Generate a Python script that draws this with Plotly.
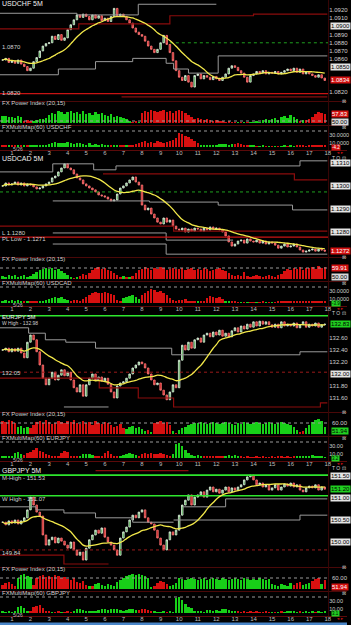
import plotly.graph_objects as go
import pandas as pd

W, H = 351, 625
OFFS = [0, 156, 311, 466]
XEND = 332 / W
XR = [0.36, 18.02]
FONT = "Liberation Sans"

# ---------------- data ----------------
bar_t = [0.5 + i / 6 for i in range(105)]          # bar times (hours)
hour_ticks = list(range(1, 19))
symbols = ["USDCHF", "USDCAD", "EURJPY", "GBPJPY"]

usdchf_close = [1.0859, 1.0861, 1.0856,
    1.0858, 1.0855, 1.0859, 1.0854, 1.0851, 1.0846,
    1.0849, 1.0857, 1.0862, 1.0870, 1.0876, 1.0879,
    1.0880, 1.0888, 1.0884, 1.0890, 1.0883, 1.0886,
    1.0896, 1.0902, 1.0908, 1.0914, 1.0911, 1.0915,
    1.0912, 1.0908, 1.0914, 1.0910, 1.0913, 1.0907,
    1.0910, 1.0906, 1.0912, 1.0922, 1.0913, 1.0915,
    1.0912, 1.0908, 1.0904, 1.0898, 1.0893, 1.0890,
    1.0888, 1.0882, 1.0876, 1.0872, 1.0868, 1.0872,
    1.0880, 1.0889, 1.0878, 1.0868, 1.0858, 1.0846,
    1.0838, 1.0834, 1.0840, 1.0832, 1.0826, 1.0840,
    1.0842, 1.0836, 1.0840, 1.0838, 1.0835, 1.0839,
    1.0836, 1.0834, 1.0838, 1.0842, 1.0849, 1.0852,
    1.0850, 1.0846, 1.0843, 1.0838, 1.0832, 1.0840,
    1.0842, 1.0845, 1.0843, 1.0846, 1.0842, 1.0844,
    1.0843, 1.0845, 1.0842, 1.0844, 1.0846, 1.0848,
    1.0846, 1.0849, 1.0844, 1.0848, 1.0842, 1.0845,
    1.0842, 1.0840, 1.0838, 1.0841, 1.0837, 1.0834]

usdcad_close = [1.13000, 1.13013, 1.13004,
    1.13009, 1.13017, 1.13004, 1.13013, 1.13000, 1.13009,
    1.13004, 1.12996, 1.12987, 1.12991, 1.13000, 1.13009,
    1.13017, 1.13035, 1.13043, 1.13061, 1.13078, 1.13096,
    1.13078, 1.13070, 1.13052, 1.13035, 1.13026, 1.13009,
    1.13000, 1.12991, 1.12983, 1.12974, 1.12961, 1.12957,
    1.12952, 1.12943, 1.12935, 1.12939, 1.12965, 1.12991,
    1.13000, 1.13013, 1.13026, 1.13039, 1.13017, 1.13004,
    1.12917, 1.12896, 1.12904, 1.12878, 1.12861, 1.12843,
    1.12835, 1.12861, 1.12843, 1.12852, 1.12826, 1.12813,
    1.12809, 1.12817, 1.12800, 1.12813, 1.12804, 1.12817,
    1.12813, 1.12804, 1.12817, 1.12809, 1.12822, 1.12813,
    1.12817, 1.12809, 1.12800, 1.12783, 1.12757, 1.12739,
    1.12748, 1.12761, 1.12765, 1.12752, 1.12770, 1.12761,
    1.12757, 1.12765, 1.12752, 1.12761, 1.12748, 1.12757,
    1.12752, 1.12743, 1.12730, 1.12739, 1.12748, 1.12735,
    1.12739, 1.12748, 1.12735, 1.12722, 1.12713, 1.12717,
    1.12722, 1.12726, 1.12717, 1.12726, 1.12722, 1.12717]

eurjpy_close = [132.40, 132.43, 132.37,
    132.42, 132.38, 132.43, 132.35, 132.27, 132.53,
    132.65, 132.57, 132.37, 132.15, 131.93, 131.82,
    131.93, 132.03, 131.90, 131.98, 132.07, 131.97,
    132.03, 131.90, 131.77, 131.70, 131.82, 131.63,
    131.82, 131.93, 132.00, 131.90, 131.95, 131.88,
    131.93, 131.83, 131.70, 131.60, 131.80, 131.85,
    131.87, 131.93, 132.00, 132.10, 132.15, 132.20,
    132.17, 132.10, 132.00, 131.90, 131.82, 131.85,
    131.73, 131.65, 131.57, 131.70, 131.82, 131.77,
    132.23, 132.48, 132.40, 132.53, 132.43, 132.57,
    132.60, 132.53, 132.65, 132.68, 132.62, 132.70,
    132.65, 132.73, 132.63, 132.68, 132.62, 132.72,
    132.77, 132.70, 132.80, 132.75, 132.83, 132.78,
    132.87, 132.80, 132.88, 132.83, 132.87, 132.82,
    132.78, 132.83, 132.77, 132.87, 132.80, 132.83,
    132.80, 132.85, 132.77, 132.82, 132.87, 132.78,
    132.83, 132.80, 132.85, 132.78, 132.82, 132.83]

gbpjpy_close = [150.45, 150.39, 150.48,
    150.43, 150.50, 150.41, 150.48, 150.55, 150.73,
    151.02, 150.84, 150.68, 150.59, 150.16, 149.93,
    150.05, 150.11, 149.98, 150.09, 150.02, 149.93,
    149.86, 150.00, 149.82, 149.70, 149.77, 149.59,
    149.86, 150.05, 150.16, 150.27, 150.20, 150.32,
    150.11, 150.00, 149.93, 149.82, 149.70, 150.09,
    150.23, 150.34, 150.50, 150.61, 150.55, 150.68,
    150.73, 150.55, 150.45, 150.41, 150.27, 150.09,
    149.93, 149.82, 150.05, 150.23, 150.16, 150.27,
    150.61, 150.84, 150.95, 151.07, 150.84, 151.02,
    151.07, 151.14, 151.02, 151.18, 151.25, 151.14,
    151.20, 151.11, 151.18, 151.25, 151.14, 151.23,
    151.18, 151.25, 151.30, 151.41, 151.48, 151.52,
    151.41, 151.30, 151.34, 151.25, 151.30, 151.18,
    151.23, 151.30, 151.18, 151.25, 151.32, 151.27,
    151.34, 151.25, 151.30, 151.18, 151.14, 151.23,
    151.27, 151.23, 151.30, 151.18, 151.25, 151.20]

# FX Power Index (sign = colour: + green, - red)
usdchf_power = [56, 56, 55,
    55, 54, 56, 55, -51, -52,  -51, 51, 52, 53, 53, 54,
    57, 59, 58, 61, 60, 58,  60, 61, 59, 60, 58, 61,
    58, 59, 57, 60, 58, 59,  57, 56, 58, 55, 56, 55,
    54, 53, 51, -50, -51, 50,  -59, -61, -60, -62, -61, -60,
    -61, -62, -60, -61, -59, -61,  -62, -61, -59, -57, -55, -53,
    -54, -53, -52, -53, -52, -51,  -52, -51, -51, -50, -51, -50,
    -50, 50, -50, 50, -50, 50,  50, 51, 50, 52, 53, 52,
    53, 54, 52, 55, 56, 54,  57, 55, 53, -51, 52, -52,
    -53, -55, -58, -60, -59, -58]
usdcad_power = [52, 51, 53,
    52, 53, 51, 52, 53, 51,  52, 54, 56, 58, 59, 60,
    59, 60, 58, 59, 57, 55,  53, 51, -50, 51, -52, -54,
    -53, -55, -58, -60, -61, -59,  -60, -58, -57, -55, -53, -51,
    52, -51, 51, -52, -55, -58,  -59, -61, -60, -58, -60, -59,
    -61, -60, -58, -59, -60, -59,  -59, -60, -58, -59, -60, -58,
    -59, -58, -60, -59, -57, -58,  -59, -60, -58, -57, -55, -53,
    -52, -53, -52, -56, -52, -51,  -52, -53, -52, -51, -52, -53,
    -52, -51, -53, -54, -57, -59,  -58, -60, -59, -61, -58, -60,
    -60, -61, -59, -62, -60, -61]
eurjpy_power = [-62, -61, -63,
    -62, -60, 56, 57, 55, 56,  -55, -58, -61, -62, -60, -63,
    -61, -59, -60, -62, -61, -60,  -62, -61, -63, -60, -59, -62,
    -60, -61, -58, -62, -60, -59,  -61, -60, -58, -56, -57, -59,
    -55, 54, 56, 57, 55, 56,  54, 52, -53, 51, -60, -61,
    -62, -60, -61, -58, 52, -50,  53, 55, 56, 58, 59, 60,
    60, 61, 60, 59, 60, 61,  60, 59, 60, 61, 60, 59,
    58, 60, 59, 61, 60, 59,  60, 61, 60, 59, 60, 61,
    60, 59, 60, 61, 60, 59,  58, 56, 53, -51, -52, 55,
    58, 61, 63, 64, 62, 56]
gbpjpy_power = [-53, -55, -56,
    -54, -52, 60, 63, 64, 62,  61, -53, -60, -62, -63, -61,
    -62, -61, -63, -62, -60, -61,  -59, -58, -60, -56, -55, -57,
    -53, 52, -52, 54, 55, 53,  52, 54, 53, 52, 56, 58,
    60, 62, 63, 64, 63, 64,  63, 62, 60, 51, -52, -55,
    -57, -56, -54, 52, 53, 55,  60, 59, 58, 59, 60, 59,
    58, 59, 60, 58, 59, 60,  59, 58, 60, 59, 58, 59,
    60, 59, 58, 60, 59, 58,  59, 58, 60, 59, 58, 59,
    54, 53, 52, 54, 53, 52,  55, -53, -55, -56, 53, 54,
    55, -57, -59, -60, 54, -58]

# FX MultiMap(60) (sign = colour)
usdchf_mm = [-5, -4, 3,
    -5, -6, 4, -3, 3, -4,  5, 4, 6, 3, 5, 4,
    8, 10, 12, 9, 11, 10,  12, 10, 8, 11, 9, 7,
    6, 9, 5, 7, 6, 8,  5, 4, -3, 4, 3, -4,
    -4, 3, -5, -6, -8, -10,  -12, -15, -10, -13, -11, -14,
    -12, -10, -13, -15, -18, -22,  -35, -32, -28, -24, -20, -15,
    -10, 4, 3, 5, 4, 3,  6, 7, 8, 7, 6, 8,
    -7, -9, -8, -6, -4, 3,  3, -2, 2, 3, -2, 2,
    -2, 2, -2, 2, 3, -2,  3, 2, -3, -4, -3, -2,
    -4, -3, -5, -4, -3, -4]
usdcad_mm = [6, 8, 5,
    7, 5, 8, 6, -4, 5,  -4, -5, -3, 4, 6, 8,
    10, 12, 14, 13, 15, 11,  8, -6, -8, -7, -5, -10,
    -15, -20, -25, -28, -26, -24,  -27, -25, -22, -20, -8, -5,
    12, 15, 18, 20, 16, 10,  -20, -25, -30, -35, -32, -28,
    -30, -25, -20, -12, -8, -6,  -8, -7, -9, -6, -5, -4,
    3, -3, -5, -12, -18, -15,  -13, -16, -10, 4, 5, -3,
    -3, -2, 2, -2, 2, -2,  -2, 2, -2, -3, 2, -2,
    2, -2, -3, -4, -5, -6,  -5, -6, -4, -5, -6, -5,
    -6, -5, -4, -6, -5, -4]
eurjpy_mm = [4, 3, 5,
    4, 12, 15, 10, -8, -12,  -15, -20, -25, -18, -14, -10,
    -8, -5, -6, -4, -12, -17,  -15, -6, -4, -5, 6, 10,
    10, 9, 8, -4, -3, -4,  -12, -17, -10, -5, -4, 4,
    8, 10, 12, 10, 8, -4,  -10, -12, -10, -12, -11, -9,
    -12, -10, -8, -6, 10, 35,  38, 30, 20, 12, 8, 6,
    7, 5, -4, -6, -5, -4,  -5, -4, -6, 5, 7, 6,
    7, 5, -3, -2, -3, -2,  -2, -3, -2, -3, -2, -2,
    -3, -2, -4, -3, -2, -3,  -2, -3, 3, 5, 6, 5,
    6, 7, 5, 4, 3, 2]
gbpjpy_mm = [3, 2, 3,
    2, 3, 15, 17, 12, 4,  -4, -15, -18, -20, -12, -5,
    -3, 2, -2, -3, 2, -2,  -3, -2, 3, 9, 10, 8,
    6, 5, 6, 4, 8, 10,  9, 8, 10, 11, 9, 8,
    6, 8, 10, 9, 7, -8,  -9, -10, -8, -6, 3, 2,
    2, 3, -2, 3, 2, 38,  40, 32, 22, 16, 12, 6,
    4, 3, 2, 7, 8, 6,  7, 5, 9, 10, 8, 6,
    5, -3, -2, -3, -2, -3,  -2, -3, -2, -2, -3, -2,
    2, -2, 2, -3, 2, 3,  3, 4, 2, -3, 2, 3,
    2, 3, -2, 3, 2, 3]

# axis ranges / ticks (price units)
price_range = [[1.08102, 1.09322], [1.12696, 1.13130], [131.383, 133.05], [149.455, 151.727]]
price_ticks = [[1.0820, 1.0830, 1.0840, 1.0850, 1.0860, 1.0870, 1.0880, 1.0890, 1.0900, 1.0910, 1.0920, 1.0930],
               [1.1280, 1.1290, 1.1300, 1.1310],
               [131.60, 131.80, 132.00, 132.20, 132.40, 132.60, 132.80],
               [150.00, 150.50, 151.00, 151.50]]
price_fmt = [".4f", ".4f", ".2f", ".2f"]
boxed_ticks = [[1.0900, 1.0850], [1.1280, 1.1290, 1.1300, 1.1310], [132.00], [150.00, 150.50, 151.00, 151.50]]
current_box = [("1.0834", "#d01010", "white"), ("1.1272", "#d01010", "white"),
               ("132.83", "#20d020", "black"), ("151.20", "#20d020", "black")]

# indicator lines (step levels; None = gap)
gray_lines = [
    [([0.36, 4.5, 7.8, 12.0], [1.0916, 1.0914, 1.0927, 1.0927]),
     ([0.36, 3.5, 5.5, 7.5, 9.3, 9.7, 10.5, 12.1, 17.97], [1.0841, 1.0848, 1.0857, 1.0861, 1.0855, 1.0848, 1.0843, 1.0864, 1.0864])],
    [([0.36, 3.2, 5.4, 6.6, 16.5, 17.97], [1.13061, 1.13096, 1.13070, 1.13087, 1.13109, 1.13109]),
     ([3.2, 8.4, 12.1, 16.1, 17.97], [1.12935, 1.12930, 1.12917, 1.12896, 1.12896]),
     ([3.2, 9.3, 12.9], [1.12796, 1.12765, 1.12765]),
     ([3.2, 9.3, 17.97], [1.12748, 1.12704, 1.12704])],
    [([0.36, 1.9, 2.8, 3.9, 5.5, 9.6, 16.5, 17.97], [132.77, 132.68, 132.57, 132.53, 132.43, 132.32, 132.37, 132.37]),
     ([3.8, 6.2], [131.45, 131.45])],
    [([0.36, 2.3, 3.8, 5.5, 7.5, 9.7, None, 10.2, 12.5, 17.97],
      [150.80, 150.73, 150.66, 150.55, 150.45, 150.45, None, 150.80, 150.98, 150.98]),
     ([9.7, 16.5, 17.97], [150.50, 150.61, 150.61])],
]
red_lines = [
    [([0.36, 4.6, 9.5, 14.0, 17.97], [1.0897, 1.0903, 1.0913, 1.0915, 1.0915]),
     ([6.9, 17.97], [1.0814, 1.0814])],
    [([5.9, 16.2, 17.97], [1.13052, 1.13026, 1.13026]),
     ([0.36, 9.7, 17.97], [1.12826, 1.12804, 1.12804])],
    [([0.36, 5.7, 7.8, 9.7, 17.6, 17.97], [131.93, 131.77, 131.60, 131.45, 131.52, 131.52])],
    [([0.36, 3.8, 6.2], [149.70, 149.50, 149.50]),
     ([5.5, 10.5], [151.62, 151.62])],
]
solid_red_levels = [[1.0818], [1.12778], [], []]
green_levels = [[], [], [132.97], [151.52, 151.05]]
dotted_levels = [[(1.0880, "#1f9f1f", 9.5)], [(1.12974, "#1f9f1f", 0.36)],
                 [(132.03, "#9a1a1a", 0.36)], [(149.82, "#9a1a1a", 0.36)]]

title_rel = [3, 3, 6, 4]
left_labels = [[("1.0870", 47), ("1.0820", 93)],
               [("L 1.1280", 77), ("PL Low - 1.1271", 83)],
               [("W High - 132.98", 12.5), ("132.05", 62)],
               [("M-High - 151.53", 12), ("W High - 151.07", 33), ("149.84", 87)]]
power_labels = [[("57.83", 58, "#d01010", "white"), ("50.00", 50.5, "#d8d8d8", "black")],
                [("59.91", 60, "#d01010", "white"), ("50.00", 50.5, "#d8d8d8", "black")],
                [("60.00", 60, None, "#d0d0d0"), ("51.94", 52.5, "#20d020", "black")],
                [("60.00", 60, None, "#d0d0d0"), ("51.94", 51.5, "#d01010", "white")]]
power_dotted = [51, 60, 60, 60]
mm_ticktext = [["10.0000", "30.0000"], ["10.0000", "30.0000"], ["10.00", "30.00"], ["10.00", "30.00"]]
mm_box = [("-4.2", "#d01010", "white"), ("-3.9", "#20d020", "black"),
          ("3.2", "#20d020", "black"), ("3.1", "#20d020", "black")]

closes = [usdchf_close, usdcad_close, eurjpy_close, gbpjpy_close]
powers = [usdchf_power, usdcad_power, eurjpy_power, gbpjpy_power]
mms = [usdchf_mm, usdcad_mm, eurjpy_mm, gbpjpy_mm]

GREEN, RED = "#18d018", "#d81010"


def yp(k, rel):
    return 1 - (OFFS[k] + rel) / H


fig = go.Figure()
layout = {}
annotations = []
shapes = []

for k in range(4):
    xn = "x" if k == 0 else f"x{k + 1}"
    yP, yW, yM = [f"y{3 * k + j}" if 3 * k + j > 1 else "y" for j in (1, 2, 3)]
    c = closes[k]
    o = [c[0]] + c[:-1]
    hi = [max(a, b) for a, b in zip(o, c)]
    lo = [min(a, b) for a, b in zip(o, c)]
    px_per_unit = 100 / (price_range[k][1] - price_range[k][0])

    for xs, ys in gray_lines[k]:
        fig.add_trace(go.Scatter(x=xs, y=ys, mode="lines", line=dict(color="#9a9a9a", width=1, shape="hv"),
                                 xaxis=xn, yaxis=yP, hoverinfo="skip", connectgaps=False))
    for xs, ys in red_lines[k]:
        fig.add_trace(go.Scatter(x=xs, y=ys, mode="lines", line=dict(color="#8a0c0c", width=1.2, shape="hv"),
                                 xaxis=xn, yaxis=yP, hoverinfo="skip"))
    for lv in solid_red_levels[k]:
        fig.add_trace(go.Scatter(x=[XR[0], XR[1]], y=[lv, lv], mode="lines", line=dict(color="#c81414", width=1.2),
                                 xaxis=xn, yaxis=yP, hoverinfo="skip"))
    for lv in green_levels[k]:
        fig.add_trace(go.Scatter(x=[XR[0], XR[1]], y=[lv, lv], mode="lines", line=dict(color="#2ee62e", width=1.6),
                                 xaxis=xn, yaxis=yP, hoverinfo="skip"))
    for lv, col, x0 in dotted_levels[k]:
        fig.add_trace(go.Scatter(x=[x0, XR[1]], y=[lv, lv], mode="lines", line=dict(color=col, width=1, dash="dot"),
                                 xaxis=xn, yaxis=yP, hoverinfo="skip"))

    fig.add_trace(go.Candlestick(x=bar_t, open=o, high=hi, low=lo, close=c, xaxis=xn, yaxis=yP,
                                 increasing=dict(line=dict(color="#e8f5e8", width=0.8), fillcolor="#2c9a2c"),
                                 decreasing=dict(line=dict(color="#ff7a7a", width=0.8), fillcolor="#c41a1a"),
                                 whiskerwidth=0, hoverinfo="skip"))
    ma = pd.Series(c).rolling(14, min_periods=1).mean()
    fig.add_trace(go.Scatter(x=bar_t, y=ma, mode="lines", line=dict(color="#f2e84a", width=1.3, shape="spline"),
                             xaxis=xn, yaxis=yP, hoverinfo="skip"))

    pw = powers[k]
    fig.add_trace(go.Bar(x=bar_t, y=[abs(v) - 49 for v in pw], base=49, width=0.13,
                         marker=dict(color=[GREEN if v > 0 else RED for v in pw], line=dict(width=0)),
                         xaxis=xn, yaxis=yW, hoverinfo="skip"))
    mm = mms[k]
    fig.add_trace(go.Bar(x=bar_t, y=[abs(v) for v in mm], base=0, width=0.13,
                         marker=dict(color=[GREEN if v > 0 else RED for v in mm], line=dict(width=0)),
                         xaxis=xn, yaxis=yM, hoverinfo="skip"))

    plain_ticks = [v for v in price_ticks[k]
                   if all(abs(v - b) > 1e-9 for b in boxed_ticks[k]) and abs(v - c[-1]) * px_per_unit > 7]
    xkey = "xaxis" if k == 0 else f"xaxis{k + 1}"
    layout[xkey] = dict(domain=[0, XEND], range=XR, anchor="free", position=yp(k, 148),
                        tickvals=hour_ticks, ticktext=[str(h) for h in hour_ticks], ticks="",
                        tickfont=dict(size=6, color="#bdbdbd", family=FONT), showgrid=False,
                        zeroline=False, showline=False, rangeslider=dict(visible=False))
    tick_common = dict(showgrid=False, zeroline=False, showline=False, ticks="", anchor=xn)
    layout["yaxis" if k == 0 else f"yaxis{3 * k + 1}"] = dict(
        domain=[yp(k, 100), yp(k, 0)], range=price_range[k], side="right", tickvals=plain_ticks,
        tickformat=price_fmt[k], tickfont=dict(size=6, color="#cfcfcf", family=FONT), **tick_common)
    layout[f"yaxis{3 * k + 2}"] = dict(domain=[yp(k, 123), yp(k, 104)], range=[49, 68],
                                       showticklabels=False, **tick_common)
    layout[f"yaxis{3 * k + 3}"] = dict(domain=[yp(k, 148), yp(k, 129)], range=[-2.5, 45], side="right",
                                       tickvals=[10, 30], ticktext=mm_ticktext[k],
                                       tickfont=dict(size=5.5, color="#cfcfcf", family=FONT), **tick_common)

    shapes.append(dict(type="line", xref="paper", x0=0, x1=XEND, yref=yW, y0=power_dotted[k], y1=power_dotted[k],
                       line=dict(color="#9a9a9a", width=1, dash="dot")))
    shapes.append(dict(type="line", xref="paper", x0=0, x1=XEND, yref=yM, y0=40, y1=40,
                       line=dict(color="#9a9a9a", width=1, dash="dot")))

    for rel, col in [(101.5, "#4a0808"), (125.5, "#4a0808"), (150.5, "#5a0a0a")]:
        shapes.append(dict(type="line", xref="paper", yref="paper", x0=0, x1=1, y0=yp(k, rel), y1=yp(k, rel),
                           line=dict(color=col, width=1)))
    shapes.append(dict(type="line", xref="paper", yref="paper", x0=XEND + 0.001, x1=XEND + 0.001,
                       y0=yp(k, 150), y1=yp(k, 0), line=dict(color="#3a0606", width=1)))

    def note(x_px, rel, s, size=6, color="#d8d8d8", anchor="left", bg=None):
        annotations.append(dict(xref="paper", yref="paper", x=x_px / W, y=yp(k, rel), text=s, showarrow=False,
                                xanchor=anchor, yanchor="middle", font=dict(size=size, color=color, family=FONT),
                                bgcolor=bg, borderpad=0))

    note(1, title_rel[k], f"{symbols[k]} 5M", size=7 if k != 2 else 6, color="#f0f0f0")
    for s, rel in left_labels[k]:
        note(1, rel, s, size=6 if k != 2 or rel > 20 else 5, color="#cfcfcf")
    note(1, 103, "FX Power Index (20,15)", size=6, color="#cfcfcf")
    note(1, 127, f"FXMultiMap(60) {symbols[k]}", size=6, color="#cfcfcf")
    note(12, 149, "5/26", size=5, color="#bdbdbd")
    note(348, 101.5, "⊠", size=4.5, color="#bdbdbd", anchor="center")
    note(348, 127, "⊠", size=4.5, color="#bdbdbd", anchor="center")
    if k > 0:
        note(343, 1.5, "T O ⊡", size=5, color="#d0d0d0", anchor="center")
    note(344, 152.5, "◄►", size=4, color="#c01010", anchor="center")

    for v in boxed_ticks[k]:
        annotations.append(dict(xref="paper", yref=yP, x=(XEND * W + 2) / W, y=v, text=format(v, price_fmt[k]),
                                showarrow=False, xanchor="left", yanchor="middle", bgcolor="#e4e4e4",
                                font=dict(size=6, color="black", family=FONT), borderpad=0))
    txt, bgc, fc = current_box[k]
    annotations.append(dict(xref="paper", yref=yP, x=(XEND * W + 2) / W, y=c[-1], text=txt, showarrow=False,
                            xanchor="left", yanchor="middle", bgcolor=bgc,
                            font=dict(size=6, color=fc, family=FONT), borderpad=0))
    for s, v, bgc, fc in power_labels[k]:
        annotations.append(dict(xref="paper", yref=yW, x=(XEND * W + 3) / W, y=v, text=s, showarrow=False,
                                xanchor="left", yanchor="middle", bgcolor=bgc,
                                font=dict(size=6, color=fc, family=FONT), borderpad=0))
    s, bgc, fc = mm_box[k]
    annotations.append(dict(xref="paper", yref=yM, x=(XEND * W + 3) / W, y=-1.5, text=s, showarrow=False,
                            xanchor="left", yanchor="middle", bgcolor=bgc,
                            font=dict(size=4.5, color=fc, family=FONT), borderpad=0))

shapes.append(dict(type="rect", xref="paper", yref="paper", x0=0, x1=1, y0=0, y1=2.5 / H,
                   fillcolor="#4a86c8", line=dict(width=0)))

fig.update_layout(width=W, height=H, margin=dict(l=0, r=0, t=0, b=0), paper_bgcolor="black",
                  plot_bgcolor="black", showlegend=False, bargap=0, annotations=annotations, shapes=shapes,
                  font=dict(family=FONT, color="#d0d0d0"), **layout)
fig.write_html("out.html")
